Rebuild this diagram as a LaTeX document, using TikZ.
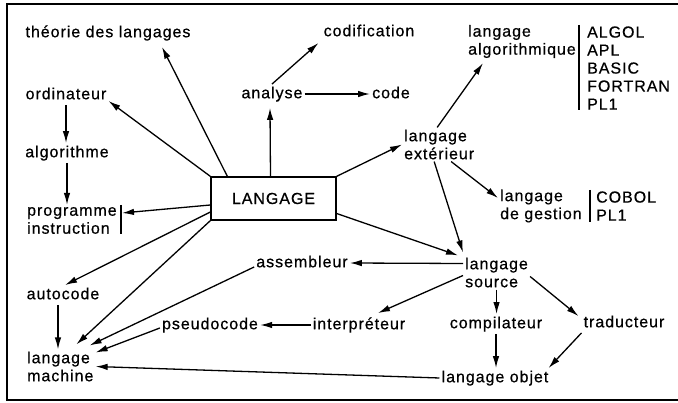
\documentclass[tikz,border=0pt]{standalone}
\usepackage{fontspec}
\setmainfont{Liberation Sans}[LetterSpace=6,FakeBold=0.6]
\usetikzlibrary{arrows.meta}
\begin{document}
\begin{tikzpicture}[x=1pt,y=-1pt,
  every node/.style={font=\fontsize{16}{18}\selectfont, inner sep=2pt},
  txt/.style={text height=12pt, text depth=3.5pt},
  ml/.style={align=left, anchor=west},
  arr/.style={-{Latex[length=12pt,width=6.5pt]}, line width=1.3pt},
  barline/.style={line width=1.8pt},
  frameline/.style={line width=1.5pt}]
\useasboundingbox (0,0) rectangle (678,403);
\draw[frameline] (678,4) -- (7,4) -- (7,400) -- (678,400);

% nodes
\node[txt] (theorie) at (108,33) {théorie des langages};
\node[txt] (codif) at (369,32) {codification};
\node[ml] (lalgo) at (466,41.5) {langage\\algorithmique};
\node[ml] (list1) at (585,68) {ALGOL\\APL\\BASIC\\FORTRAN\\PL1};
\node[txt] (ordinateur) at (66,95) {ordinateur};
\node[txt] (analyse) at (272,94) {analyse};
\node[txt] (code) at (391,94) {code};
\node[ml] (lext) at (402,144.5) {langage\\extérieur};
\node[txt] (algorithme) at (67,153) {algorithme};
\node[draw, line width=1.3pt, minimum width=125pt, minimum height=43pt] (box) at (273.5,198.5) {LANGAGE};
\node[ml] (prog) at (25,220.5) {programme\\instruction};
\node[ml] (lgest) at (498,206) {langage\\de gestion};
\node[ml] (list2) at (594,206) {COBOL\\PL1};
\node[ml] (lsrc) at (463,272.5) {langage\\source};
\node[txt] (assem) at (302,263) {assembleur};
\node[txt] (autocode) at (63,295) {autocode};
\node[txt] (pseudo) at (210,325) {pseudocode};
\node[txt] (interp) at (359,325) {interpréteur};
\node[txt] (compil) at (496,324) {compilateur};
\node[txt] (trad) at (624,323) {traducteur};
\node[ml] (lmach) at (25,366.5) {langage\\machine};
\node[txt] (lobjet) at (495,378) {langage objet};

% bars
\coordinate (b1t) at (579,25);
\coordinate (b1b) at (579,110);
\coordinate (b2t) at (590,190);
\coordinate (b2b) at (590,222);
\coordinate (b3t) at (121,205);
\coordinate (b3b) at (121,234);
\coordinate (pbar) at (122,213);
\draw[barline] (b1t) -- (b1b);
\draw[barline] (b2t) -- (b2b);
\draw[barline] (b3t) -- (b3b);

% arrows
\draw[arr] ([xshift=17pt]box.north west) -- ([xshift=54pt,yshift=-4pt]theorie.south);
\draw[arr] (box.north west) -- ([yshift=-6pt]ordinateur.east);
\draw[arr] ([xshift=-3pt]box.north) -- ([xshift=-2pt,yshift=-4pt]analyse.south);
\draw[arr] (analyse.north) -- ([xshift=-3pt,yshift=-1pt]codif.south west);
\draw[arr] (analyse.east) -- (code.west);
\draw[arr] (box.north east) -- (lext.west);
\draw[arr] ([xshift=-2pt]lext.north) -- ([xshift=-39pt,yshift=-3pt]lalgo.south);
\draw[arr] (ordinateur.south) -- (ordinateur.south |- algorithme.north);
\draw[arr] (algorithme.south) -- (algorithme.south |- prog.north);
\draw[arr] ([yshift=-6.5pt]box.west) -- (pbar);
\draw[arr] ([xshift=12pt]lext.south) -- ([yshift=8pt]lgest.west);
\draw[arr] ([xshift=-5pt]lext.south) -- ([yshift=3pt]lsrc.north west);
\draw[arr] ([yshift=-15pt]box.east) -- ([xshift=-5pt]lsrc.north west);
\draw[arr] ([yshift=9pt]lsrc.west) -- (assem.east);
\draw[arr] ([yshift=-3pt]lsrc.west) -- ([xshift=19pt,yshift=2pt]interp.north);
\draw[arr] (lsrc.south) -- (lsrc.south |- compil.north);
\draw[arr] ([yshift=-4pt]lsrc.east) -- ([xshift=-3pt,yshift=-3pt]trad.north west);
\draw[arr] (compil.south) -- (compil.south |- lobjet.north);
\draw[arr] (trad.south west) -- ([xshift=-2pt]lobjet.north east);
\draw[arr] (lobjet.west) -- (lmach.east);
\draw[arr] (interp.west) -- (pseudo.east);
\draw[arr] ([yshift=-3pt]pseudo.west) -- ([yshift=14pt]lmach.east);
\draw[arr] ([yshift=-4pt]assem.west) -- ([xshift=-6pt,yshift=21pt]lmach.east);
\draw[arr] (box.south west) -- ([xshift=16pt,yshift=5pt]lmach.north);
\draw[arr] ([yshift=-13.5pt]box.west) -- ([xshift=2pt]autocode.north);
\draw[arr] ([xshift=-5pt]autocode.south) -- ([xshift=-5pt]autocode.south |- lmach.north);
\end{tikzpicture}
\end{document}
